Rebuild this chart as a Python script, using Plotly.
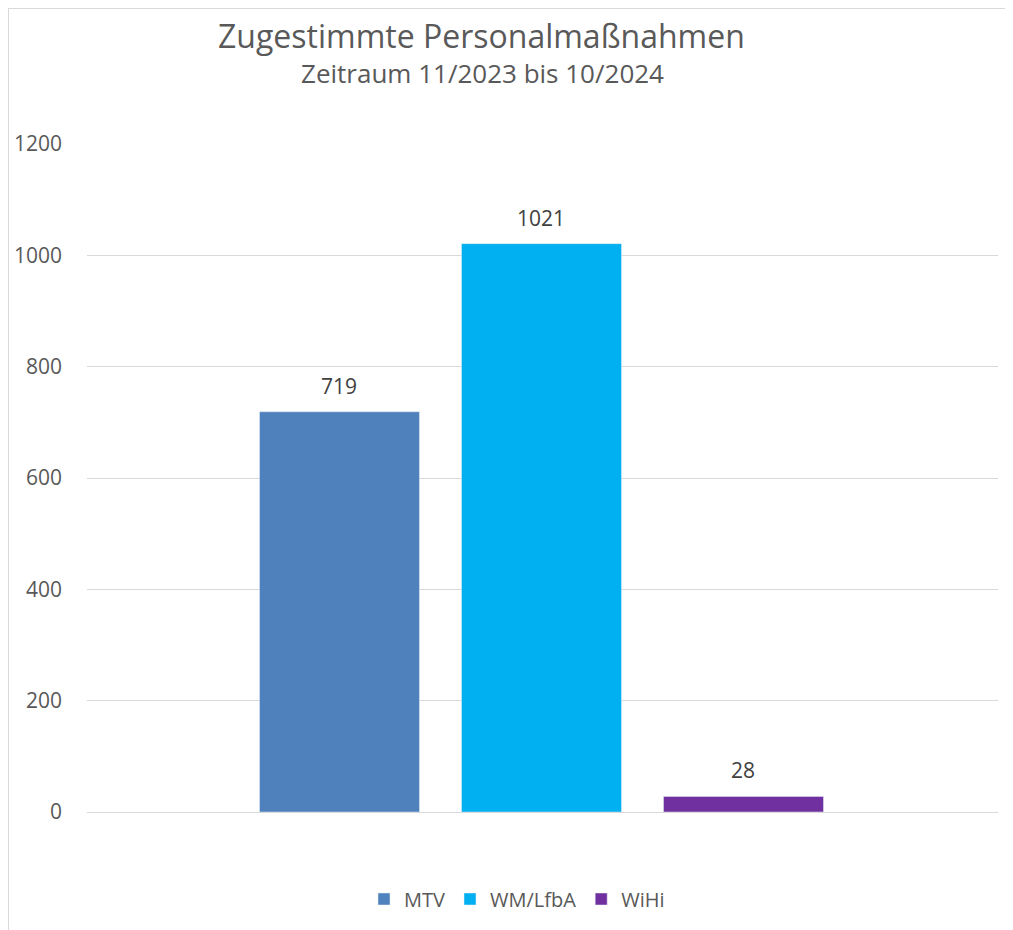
import plotly.graph_objects as go

series_names = ["MTV", "WM/LfbA", "WiHi"]
series_values = [719, 1021, 28]
series_colors = ["#4F81BD", "#00B0F0", "#7030A0"]
tick_vals = [0, 200, 400, 600, 800, 1000, 1200]
title_text = "Zugestimmte Personalmaßnahmen"
subtitle_text = "Zeitraum 11/2023 bis 10/2024"

W, H = 1005, 922
L, R, T, B = 79, 15, 136, 118
PW, PH = W - L - R, H - T - B

def px(x):
    return (x - L) / PW

def py(y):
    return (H - B - y) / PH

fig = go.Figure()
annotations = []
for name, val, col in zip(series_names, series_values, series_colors):
    fig.add_trace(go.Bar(x=[name], y=[val], name=name, marker_color=col))
    annotations.append(dict(x=name, y=val, xref="x", yref="y", text=str(val),
                            showarrow=False, yanchor="middle", yshift=26,
                            font=dict(family="Open Sans", size=21, color="#404040")))

annotations += [
    dict(text=title_text, xref="paper", yref="paper", x=px(473), y=py(28),
         xanchor="center", yanchor="middle", showarrow=False,
         font=dict(family="Open Sans", size=32, color="#595959")),
    dict(text=subtitle_text, xref="paper", yref="paper", x=px(474), y=py(65),
         xanchor="center", yanchor="middle", showarrow=False,
         font=dict(family="Open Sans", size=26, color="#595959")),
]

fig.update_layout(
    width=W, height=H,
    margin=dict(l=L, r=R, t=T, b=B, autoexpand=False),
    paper_bgcolor="white", plot_bgcolor="white",
    barmode="overlay", bargap=0.208,
    showlegend=True,
    legend=dict(orientation="h", x=px(509), xanchor="center", y=py(891), yanchor="middle",
                font=dict(family="Open Sans", size=20, color="#595959"),
                traceorder="normal"),
    annotations=annotations,
    shapes=[
        dict(type="line", xref="paper", yref="paper", x0=px(0), x1=1.2,
             y0=py(0), y1=py(0), line=dict(color="#D9D9D9", width=2)),
        dict(type="line", xref="paper", yref="paper", x0=px(0), x1=px(0),
             y0=py(0), y1=py(H + 10), line=dict(color="#D9D9D9", width=2)),
    ],
)
fig.update_xaxes(type="category", categoryorder="array", categoryarray=series_names,
                 range=[-1.25, 3.26], showticklabels=False, showgrid=False,
                 zeroline=False, showline=False, automargin=False)
fig.update_yaxes(range=[0, 1200], tickvals=tick_vals, showgrid=True, gridcolor="#D9D9D9",
                 gridwidth=1, zeroline=True, zerolinecolor="#D9D9D9", zerolinewidth=1,
                 ticks="", ticklabelstandoff=24, automargin=False,
                 tickfont=dict(family="Open Sans", size=21, color="#595959"))
fig.write_html("out.html")
